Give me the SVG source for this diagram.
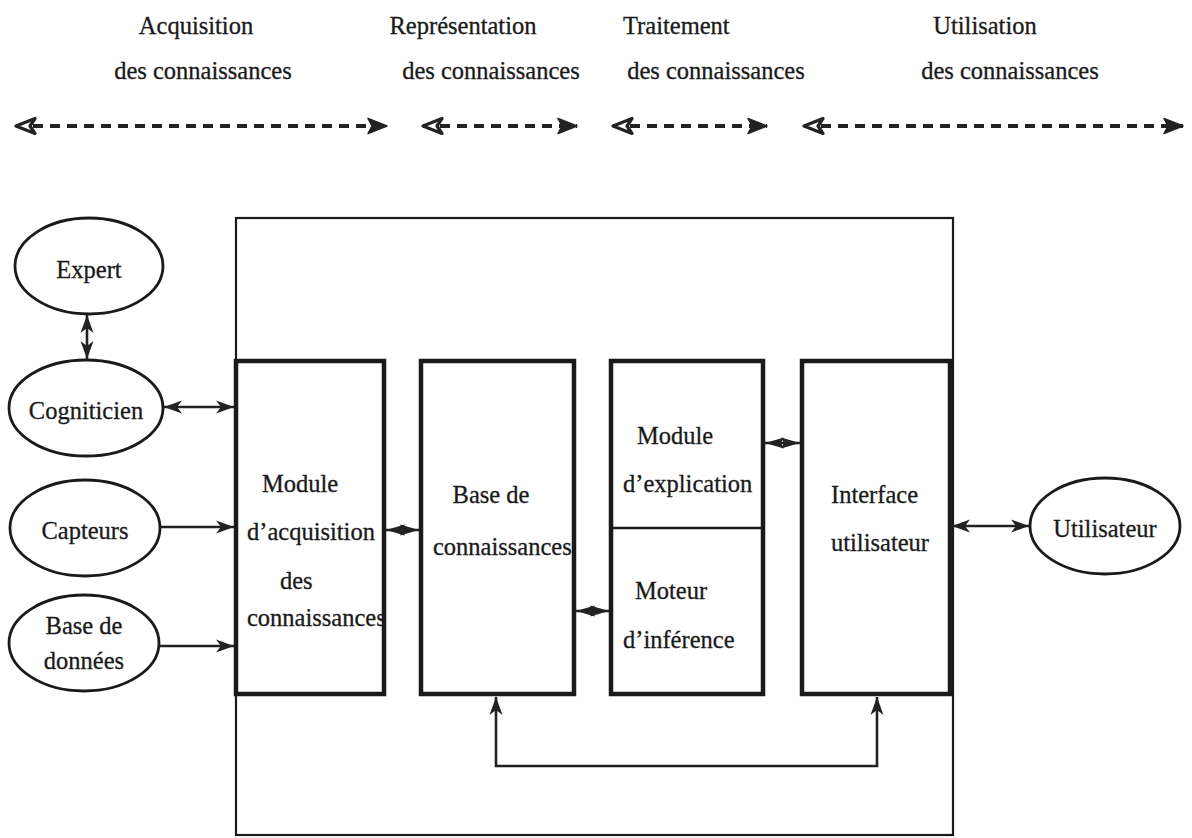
<svg xmlns="http://www.w3.org/2000/svg" width="1192" height="838" viewBox="0 0 1192 838">
<style>
text{font-family:"Liberation Serif","Times New Roman",serif;font-size:24.5px;fill:#1a1a1a;stroke:#1a1a1a;stroke-width:0.3}
.ell{fill:#fff;stroke:#1a1a1a;stroke-width:2.8}
.box{fill:none;stroke:#1a1a1a;stroke-width:4.5}
.outer{fill:none;stroke:#1a1a1a;stroke-width:2.2}
.ln{fill:none;stroke:#222;stroke-width:2.6}
.dash{fill:none;stroke:#222;stroke-width:4;stroke-dasharray:10 7}
</style>
<defs>
<clipPath id="c1"><rect x="236" y="361" width="151" height="333"/></clipPath>
<clipPath id="c2"><rect x="421" y="361" width="156" height="333"/></clipPath>
<marker id="ah" markerUnits="userSpaceOnUse" markerWidth="20" markerHeight="14" refX="18" refY="7" orient="auto-start-reverse">
<path d="M0,0.5 L18,7 L0,13.5 L5,7 z" fill="#222"/>
</marker>
<marker id="dh" markerUnits="userSpaceOnUse" markerWidth="20" markerHeight="14" refX="19" refY="7" orient="auto-start-reverse">
<path d="M0,1.5 L19,7 L0,12.5 L3,7 z" fill="#222"/>
</marker>
<marker id="fh" markerUnits="userSpaceOnUse" markerWidth="22" markerHeight="18" refX="20" refY="9" orient="auto">
<path d="M1,1.5 L20,9 L1,16.5 L5,9 z" fill="#222" stroke="#222" stroke-width="1.5" stroke-linejoin="round"/>
</marker>
<marker id="oh" markerUnits="userSpaceOnUse" markerWidth="24" markerHeight="20" refX="2" refY="10" orient="auto">
<path d="M2,10 L21,2.5 L16,10 L21,17.5 z" fill="#fff" stroke="#222" stroke-width="3.2" stroke-linejoin="round"/>
</marker>
</defs>

<g id="labels">
<text x="196" y="34" text-anchor="middle">Acquisition</text>
<text x="203" y="79" text-anchor="middle">des connaissances</text>
<text x="463" y="34" text-anchor="middle">Représentation</text>
<text x="491" y="79" text-anchor="middle">des connaissances</text>
<text x="623" y="34">Traitement</text>
<text x="716" y="79" text-anchor="middle">des connaissances</text>
<text x="985" y="34" text-anchor="middle">Utilisation</text>
<text x="1010" y="79" text-anchor="middle">des connaissances</text>
</g>

<g id="outer-box"><rect class="outer" x="236" y="218" width="717" height="617"/></g>

<g id="expert"><ellipse class="ell" cx="89" cy="266" rx="74" ry="48"/><text x="89" y="278" text-anchor="middle">Expert</text></g>
<g id="cogniticien"><ellipse class="ell" cx="86" cy="408" rx="77" ry="48"/><text x="86" y="419" text-anchor="middle">Cogniticien</text></g>
<g id="capteurs"><ellipse class="ell" cx="85" cy="528" rx="75" ry="48"/><text x="85" y="539" text-anchor="middle">Capteurs</text></g>
<g id="base-donnees"><ellipse class="ell" cx="84" cy="643" rx="75" ry="48"/><text x="84" y="634" text-anchor="middle">Base de</text><text x="84" y="669" text-anchor="middle">données</text></g>
<g id="utilisateur"><ellipse class="ell" cx="1105" cy="526" rx="75" ry="48"/><text x="1105" y="537" text-anchor="middle">Utilisateur</text></g>

<g id="module-acquisition">
<g clip-path="url(#c1)">
<text x="262" y="492">Module</text>
<text x="247" y="540">d’acquisition</text>
<text x="280" y="589">des</text>
<text x="247" y="626">connaissances</text>
</g>
<rect class="box" x="236" y="361" width="148" height="333"/>
</g>
<g id="base-connaissances">
<g clip-path="url(#c2)">
<text x="491" y="503" text-anchor="middle">Base de</text>
<text x="433" y="555">connaissances</text>
</g>
<rect class="box" x="421" y="361" width="153" height="333"/>
</g>
<g id="module-explication-moteur">
<text x="637" y="444">Module</text>
<text x="623" y="492">d’explication</text>
<text x="635" y="599">Moteur</text>
<text x="623" y="648">d’inférence</text>
<rect class="box" x="611" y="361" width="152" height="333"/>
<line x1="611" y1="528" x2="763" y2="528" stroke="#1a1a1a" stroke-width="2.5"/>
</g>
<g id="interface-utilisateur">
<text x="831" y="503">Interface</text>
<text x="831" y="551">utilisateur</text>
<rect class="box" x="802" y="361" width="148" height="333"/>
</g>

<g id="connectors">
<line class="dash" x1="16" y1="126" x2="387" y2="126" marker-start="url(#oh)" marker-end="url(#fh)"/>
<line class="dash" x1="423" y1="126" x2="577" y2="126" marker-start="url(#oh)" marker-end="url(#fh)"/>
<line class="dash" x1="613" y1="126" x2="767" y2="126" marker-start="url(#oh)" marker-end="url(#fh)"/>
<line class="dash" x1="804" y1="126" x2="1183" y2="126" marker-start="url(#oh)" marker-end="url(#fh)"/>

<line class="ln" x1="87" y1="315" x2="87" y2="359" marker-start="url(#ah)" marker-end="url(#ah)"/>
<line class="ln" x1="164" y1="407" x2="234" y2="407" marker-start="url(#ah)" marker-end="url(#ah)"/>
<line class="ln" x1="160" y1="527" x2="234" y2="527" marker-end="url(#ah)"/>
<line class="ln" x1="159" y1="646" x2="234" y2="646" marker-end="url(#ah)"/>
<line class="ln" x1="386" y1="530" x2="419" y2="530" marker-start="url(#dh)" marker-end="url(#dh)"/>
<line class="ln" x1="576" y1="611" x2="609" y2="611" marker-start="url(#dh)" marker-end="url(#dh)"/>
<line class="ln" x1="765" y1="443" x2="800" y2="443" marker-start="url(#dh)" marker-end="url(#dh)"/>
<line class="ln" x1="952" y1="526" x2="1029" y2="526" marker-start="url(#ah)" marker-end="url(#ah)"/>
<path class="ln" d="M496,697 L496,766 L877,766 L877,697" marker-start="url(#ah)" marker-end="url(#ah)"/>
</g>
</svg>
